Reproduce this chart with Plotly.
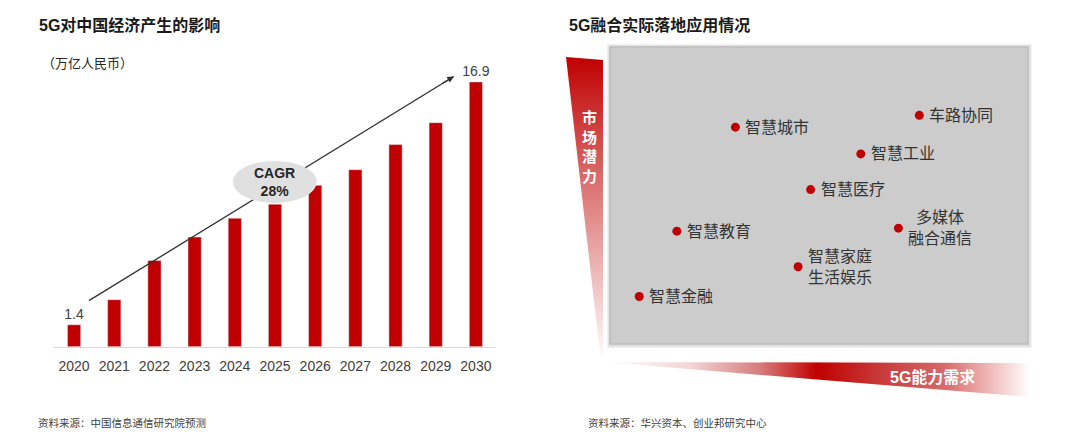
import plotly.graph_objects as go

# Data
years = ["2020", "2021", "2022", "2023", "2024", "2025", "2026", "2027", "2028", "2029", "2030"]
impact = [1.4, 3.0, 5.5, 7.0, 8.2, 9.1, 10.3, 11.3, 12.9, 14.3, 16.9]

apps = ["智慧城市", "车路协同", "智慧工业", "智慧医疗", "多媒体<br>融合通信",
        "智慧教育", "智慧家庭<br>生活娱乐", "智慧金融"]
demand = [3.0, 7.4, 6.0, 4.8, 6.9, 1.6, 4.5, 0.7]      # 5G能力需求
potential = [7.3, 7.7, 6.4, 5.2, 3.9, 3.8, 2.6, 1.6]   # 市场潜力

FONT = "Liberation Sans, Noto Sans CJK SC, sans-serif"
RED = "#c00000"
GREY_TXT = "#404040"
W, H = 1080, 433

fig = go.Figure()

# left: bar chart
bar_text = [str(v) if i in (0, len(impact) - 1) else "" for i, v in enumerate(impact)]
fig.add_trace(go.Bar(
    x=years, y=impact, marker_color=RED, width=0.33,
    text=bar_text, textposition="outside", constraintext="none",
    textfont=dict(size=14, color=GREY_TXT, family=FONT),
    cliponaxis=False, xaxis="x", yaxis="y", hoverinfo="skip",
))

# right: application map
fig.add_trace(go.Scatter(
    x=demand, y=potential, mode="markers",
    marker=dict(color=RED, size=9),
    xaxis="x2", yaxis="y2", cliponaxis=False, hoverinfo="skip",
))

# decorative wedges, drawn in a pixel-coordinate overlay
fig.add_trace(go.Scatter(
    x=[566, 603, 603, 601, 566], y=[57, 60, 355, 362, 57],
    mode="lines", line=dict(width=0), fill="toself",
    fillgradient=dict(type="vertical", colorscale=[
        [0, "#ffffff"], [0.2, "#f3cfcf"], [0.58, "#dc7272"], [1, RED]]),
    xaxis="x3", yaxis="y3", hoverinfo="skip",
))
fig.add_trace(go.Scatter(
    x=[604, 1030, 1030, 604], y=[362, 363, 397, 362],
    mode="lines", line=dict(width=0), fill="toself",
    fillgradient=dict(type="horizontal", colorscale=[
        [0, "#ffffff"], [0.2, "#f3d6d6"], [0.37, "#d67a7a"], [0.5, RED],
        [0.65, "#c83a3a"], [0.8, "#d86a6a"], [0.92, "#f2c4c4"], [1, "#ffffff"]]),
    xaxis="x3", yaxis="y3", hoverinfo="skip",
))

shapes = [
    # grey panel with a soft edge
    dict(type="rect", xref="x2 domain", yref="y2 domain", x0=-0.006, x1=1.008, y0=-0.012,
         y1=1.008, fillcolor="#e2e2e2", line=dict(width=0), layer="below"),
    dict(type="rect", xref="x2 domain", yref="y2 domain", x0=0, x1=1, y0=0, y1=1,
         fillcolor="#cccccc", line=dict(color="#bdbdbd", width=1.5), layer="below"),
    # growth arrow line, then the CAGR bubble on top of it
    dict(type="line", xref="x", yref="y", x0=0.37, y0=2.94, x1=9.45, y1=17.25,
         line=dict(color="#303030", width=1.3), layer="above"),
    dict(type="circle", xref="x", yref="y", x0=3.95, x1=6.04, y0=9.18, y1=11.86,
         fillcolor="#e0e0e0", line=dict(width=0), layer="above"),
]

annotations = [
    dict(x=9.45, y=17.25, xref="x", yref="y", text="", showarrow=True,
         ax=-13, ay=8, arrowhead=2, arrowsize=1, arrowwidth=1.3, arrowcolor="#303030"),
    dict(x=4.995, y=10.52, xref="x", yref="y", text="<b>CAGR<br>28%</b>", showarrow=False,
         font=dict(size=14, color="#262626", family=FONT)),
    # titles and notes (pixel coords)
    dict(x=37, y=25, text="<b>5G对中国经济产生的影响</b>", font=dict(size=16, color="#1a1a1a")),
    dict(x=40, y=63, text="（万亿人民币）", font=dict(size=13, color="#262626")),
    dict(x=36, y=423, text="资料来源：中国信息通信研究院预测", font=dict(size=10.5, color=GREY_TXT)),
    dict(x=567, y=25, text="<b>5G融合实际落地应用情况</b>", font=dict(size=16, color="#1a1a1a")),
    dict(x=586, y=423, text="资料来源：华兴资本、创业邦研究中心", font=dict(size=10.5, color=GREY_TXT)),
    dict(x=589, y=147, xanchor="center", text="<b>市<br>场<br>潜<br>力</b>",
         font=dict(size=15, color="white")),
    dict(x=932, y=377, xanchor="center", text="<b>5G能力需求</b>",
         font=dict(size=16, color="white")),
]
for a in annotations[2:]:
    a.setdefault("xref", "x3")
    a.setdefault("yref", "y3")
    a.setdefault("xanchor", "left")
    a["yanchor"] = "middle"
    a["showarrow"] = False
    a["font"]["family"] = FONT

for name, dx, dy in zip(apps, demand, potential):
    annotations.append(dict(
        x=dx, y=dy, xref="x2", yref="y2", text=name, showarrow=False,
        xanchor="left", yanchor="middle", xshift=8, align="center",
        font=dict(size=16, color="#333333", family=FONT),
    ))

fig.update_layout(
    width=W, height=H,
    margin=dict(l=0, r=0, t=0, b=0),
    paper_bgcolor="white", plot_bgcolor="rgba(0,0,0,0)",
    showlegend=False,
    font=dict(family=FONT),
    shapes=shapes,
    annotations=annotations,
    xaxis=dict(domain=[54 / W, 496 / W], type="category", range=[-0.5, 10.5],
               showline=True, linecolor="#d9d9d9", linewidth=1,
               ticks="outside", ticklen=6, tickcolor="rgba(0,0,0,0)",
               tickfont=dict(size=14, color=GREY_TXT, family=FONT),
               showgrid=False, zeroline=False, fixedrange=True),
    yaxis=dict(domain=[(H - 346.7) / H, (H - 60) / H], range=[0, 18.3],
               visible=False, fixedrange=True),
    xaxis2=dict(domain=[610 / W, 1028 / W], range=[0, 10], visible=False, fixedrange=True),
    yaxis2=dict(domain=[(H - 344) / H, (H - 47) / H], range=[0, 10], visible=False,
                fixedrange=True),
    xaxis3=dict(domain=[0, 1], range=[0, W], visible=False, fixedrange=True),
    yaxis3=dict(domain=[0, 1], range=[H, 0], visible=False, fixedrange=True),
)

fig.write_html("out.html", config={"displayModeBar": False},
               post_script="document.body.style.margin='0';")
